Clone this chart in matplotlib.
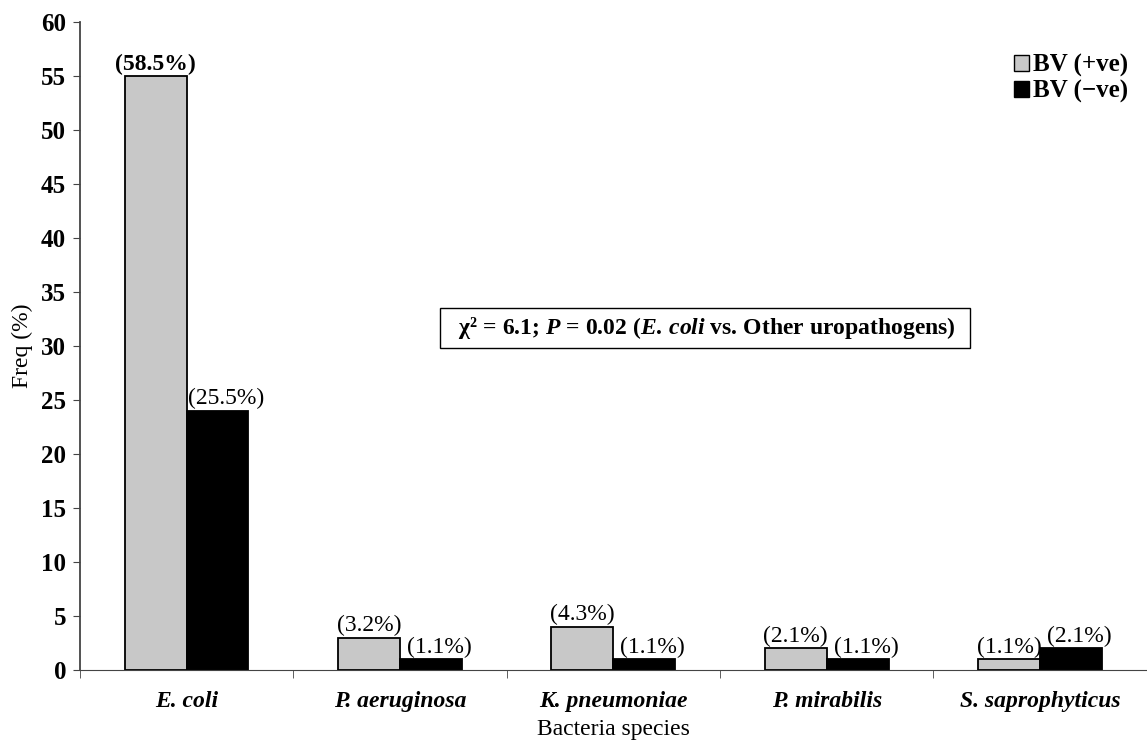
import numpy as np
import matplotlib
matplotlib.use("Agg")
import matplotlib.pyplot as plt
import matplotlib.patches as mpatches

plt.rcParams['font.family'] = ['Liberation Serif', 'DejaVu Serif']
plt.rcParams['mathtext.fontset'] = 'custom'
plt.rcParams['mathtext.rm'] = 'Liberation Serif:bold'
plt.rcParams['mathtext.it'] = 'Liberation Serif:italic:bold'

# data
species = ['E. coli', 'P. aeruginosa', 'K. pneumoniae', 'P. mirabilis', 'S. saprophyticus']
bv_pos = [55, 3, 4, 2, 1]
bv_neg = [24, 1, 1, 1, 2]
pct_pos = ['(58.5%)', '(3.2%)', '(4.3%)', '(2.1%)', '(1.1%)']
pct_neg = ['(25.5%)', '(1.1%)', '(1.1%)', '(1.1%)', '(2.1%)']

gray = '#c8c8c8'
fs = 17

fig = plt.figure(figsize=(11.47, 7.41), dpi=100)
ax = fig.add_axes([0.0697, 0.0958, 0.93, 0.8745])

x = np.arange(len(species))
w = 0.29
b1 = ax.bar(x - w/2, bv_pos, w, color=gray, edgecolor='black', linewidth=1.3)
b2 = ax.bar(x + w/2, bv_neg, w, color='black', edgecolor='black', linewidth=1.3)

for i, r in enumerate(b1):
    ax.annotate(pct_pos[i], (r.get_x() + r.get_width()/2, r.get_height()),
                xytext=(0, 1), textcoords='offset points', ha='center', va='bottom',
                fontsize=fs, fontweight='bold' if i == 0 else 'normal')
for i, r in enumerate(b2):
    ax.annotate(pct_neg[i], (r.get_x() + r.get_width()/2, r.get_height()),
                xytext=(6, 1), textcoords='offset points', ha='center', va='bottom',
                fontsize=fs)

ax.set_xlim(-0.5, len(species) - 0.5)
ax.set_ylim(0, 60)
ax.set_yticks(range(0, 61, 5))
ax.set_xticks(x)
ax.set_xticklabels(species, fontsize=fs, fontweight='bold', fontstyle='italic')
ax.set_xticks(np.arange(-0.5, len(species), 1), minor=True)
ax.tick_params(axis='x', which='major', length=0, pad=15)
ax.tick_params(axis='x', which='minor', length=6, direction='out', color='#444444')
ax.tick_params(axis='y', length=5, direction='out', color='#444444', labelsize=18, pad=5)
for lab in ax.get_yticklabels():
    lab.set_fontweight('bold')

ax.spines['top'].set_visible(False)
ax.spines['right'].set_visible(False)
ax.spines['left'].set_color('#444444')
ax.spines['bottom'].set_color('#444444')
ax.spines['left'].set_linewidth(1.3)

ax.set_xlabel('Bacteria species', fontsize=fs, labelpad=5)
ax.set_ylabel('Freq (%)', fontsize=fs, labelpad=6)

ax.text(0.586, 0.528, '  χ² = 6.1; $P$ = 0.02 ($E.\\,coli$ vs. Other uropathogens)  ',
        transform=ax.transAxes, ha='center', va='center', fontsize=fs, fontweight='bold',
        bbox=dict(boxstyle='square,pad=0.3', facecolor='white', edgecolor='black', linewidth=1.0))

handles = [mpatches.Patch(facecolor=gray, edgecolor='black', label='BV (+ve)'),
           mpatches.Patch(facecolor='black', edgecolor='black', label='BV (\u2212ve)')]
ax.legend(handles=handles, loc='upper right', bbox_to_anchor=(0.992, 0.967), frameon=False,
          prop={'size': 18, 'weight': 'bold'}, handlelength=0.6, handleheight=0.6,
          handletextpad=0.15, labelspacing=0.12, borderaxespad=0)

fig.savefig('out.png', dpi=100)
